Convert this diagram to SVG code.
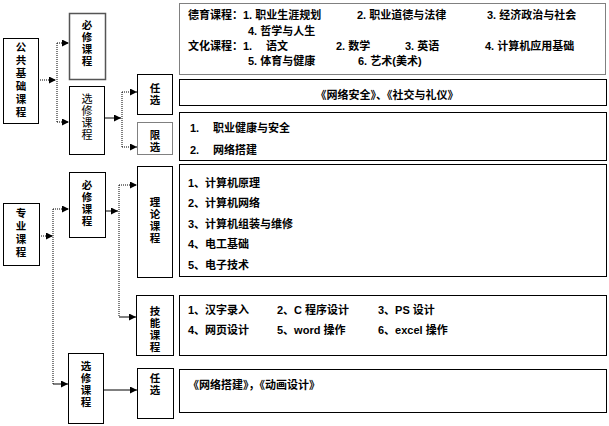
<svg xmlns="http://www.w3.org/2000/svg" width="609" height="426" viewBox="0 0 609 426">
<style>
.b{fill:#fff;stroke:#000;stroke-width:1}
.bg{fill:#fff;stroke:#555;stroke-width:1.5}
.bd{fill:#fff;stroke:#000;stroke-width:1;stroke-dasharray:1,1}
.t{font-family:"Liberation Sans","Noto Sans CJK SC",sans-serif;font-size:11px;font-weight:bold;fill:#000}
.v{font-family:"Noto Sans CJK SC",sans-serif;font-size:10.5px;font-weight:bold;fill:#000;text-anchor:middle;writing-mode:vertical-rl;letter-spacing:1.5px}
.vw{letter-spacing:2.5px}
.vl{font-weight:normal;font-size:11px;letter-spacing:1px}
.c{fill:none;stroke:#000;stroke-width:1;stroke-dasharray:1,1}
.s{fill:none;stroke:#000;stroke-width:1}
</style>
<defs>
<marker id="a" markerUnits="userSpaceOnUse" markerWidth="8" markerHeight="8" refX="7" refY="3.5" orient="auto">
<path d="M0,0 L7,3.5 L0,7 z" fill="#000"/>
</marker>
</defs>
<rect width="609" height="426" fill="#fff"/>
<g id="connectors">
<line class="c" x1="38" y1="80" x2="56" y2="80" marker-end="url(#a)"/>
<line class="c" x1="57" y1="43" x2="57" y2="122"/>
<line class="c" x1="57" y1="43" x2="69" y2="43" marker-end="url(#a)"/>
<line class="c" x1="57" y1="122" x2="69" y2="122" marker-end="url(#a)"/>
<line class="s" x1="105" y1="118" x2="121" y2="118" marker-end="url(#a)"/>
<line class="c" x1="122" y1="92" x2="122" y2="147"/>
<line class="c" x1="122" y1="92" x2="137" y2="92" marker-end="url(#a)"/>
<line class="c" x1="122" y1="147" x2="137" y2="147" marker-end="url(#a)"/>
<line class="c" x1="39" y1="236" x2="53" y2="236" marker-end="url(#a)"/>
<line class="c" x1="53" y1="209" x2="53" y2="384"/>
<line class="c" x1="53" y1="209" x2="69" y2="209" marker-end="url(#a)"/>
<line class="s" x1="53" y1="384" x2="68" y2="384" marker-end="url(#a)"/>
<line class="s" x1="105" y1="211" x2="118" y2="211" marker-end="url(#a)"/>
<line class="c" x1="119" y1="185" x2="119" y2="317"/>
<line class="c" x1="119" y1="185" x2="137" y2="185" marker-end="url(#a)"/>
<line class="s" x1="119" y1="317" x2="136" y2="317" marker-end="url(#a)"/>
<line class="s" x1="103" y1="390" x2="137" y2="390" marker-end="url(#a)"/>
</g>
<g id="n-gongong">
<rect class="b" x="3.5" y="38.5" width="35" height="85"/>
<text class="v vw" x="21" y="81">公共基础课程</text>
</g>
<g id="n-bixiu1">
<rect class="bg" x="69.5" y="13.5" width="36" height="66"/>
<text class="v" x="87" y="44">必修课程</text>
</g>
<g id="n-xuanxiu1">
<rect class="b" x="69.5" y="86.5" width="35" height="68"/>
<text class="v vl" x="87" y="117">选修课程</text>
</g>
<g id="n-renxuan1">
<rect class="b" x="137.5" y="74.5" width="35" height="40"/>
<text class="v" x="155" y="95">任选</text>
</g>
<g id="n-xianxuan">
<rect class="bd" x="137.5" y="122.5" width="35" height="32"/>
<text class="v" x="155" y="142">限选</text>
</g>
<g id="t-gonggong">
<rect class="bd" x="179.5" y="3.5" width="426" height="71"/>
<text class="t" x="188" y="19">德育课程：1. 职业生涯规划</text>
<text class="t" x="357" y="19">2. 职业道德与法律</text>
<text class="t" x="487" y="19">3. 经济政治与社会</text>
<text class="t" x="248" y="35">4. 哲学与人生</text>
<text class="t" x="188" y="50">文化课程：1.</text>
<text class="t" x="266" y="50">语文</text>
<text class="t" x="336" y="50">2. 数学</text>
<text class="t" x="405" y="50">3. 英语</text>
<text class="t" x="485" y="50">4. 计算机应用基础</text>
<text class="t" x="248" y="65">5. 体育与健康</text>
<text class="t" x="358" y="65">6. 艺术(美术)</text>
</g>
<g id="t-renxuan1">
<rect class="b" x="179.5" y="79.5" width="427" height="26"/>
<text class="t" x="387" y="99" text-anchor="middle">《网络安全》、《社交与礼仪》</text>
</g>
<g id="t-xianxuan">
<rect class="b" x="179.5" y="112.5" width="427" height="48"/>
<text class="t" x="190" y="132">1.</text>
<text class="t" x="213" y="132">职业健康与安全</text>
<text class="t" x="190" y="154">2.</text>
<text class="t" x="213" y="154">网络搭建</text>
</g>
<g id="n-zhuanye">
<rect class="b" x="3.5" y="203.5" width="36" height="62"/>
<text class="v vw" x="21" y="234">专业课程</text>
</g>
<g id="n-bixiu2">
<rect class="b" x="69.5" y="172.5" width="36" height="65"/>
<text class="v" x="87" y="204">必修课程</text>
</g>
<g id="n-xuanxiu2">
<rect class="b" x="68.5" y="353.5" width="35" height="70"/>
<text class="v" x="86" y="385">选修课程</text>
</g>
<g id="n-lilun">
<rect class="b" x="137.5" y="166.5" width="35" height="111"/>
<text class="v" x="155" y="221">理论课程</text>
</g>
<g id="n-jineng">
<rect class="b" x="136.5" y="295.5" width="37" height="60"/>
<text class="v" x="155" y="330">技能课程</text>
</g>
<g id="n-renxuan2">
<rect class="b" x="137.5" y="368.5" width="36" height="50"/>
<text class="v" x="155" y="385">任选</text>
</g>
<g id="t-lilun">
<rect class="b" x="179.5" y="164.5" width="427" height="112"/>
<text class="t" x="188" y="187">1、计算机原理</text>
<text class="t" x="188" y="207">2、计算机网络</text>
<text class="t" x="188" y="228">3、计算机组装与维修</text>
<text class="t" x="188" y="248">4、电工基础</text>
<text class="t" x="188" y="269">5、电子技术</text>
</g>
<g id="t-jineng">
<rect class="b" x="179.5" y="295.5" width="427" height="60"/>
<text class="t" x="188" y="314">1、汉字录入</text>
<text class="t" x="277" y="314">2、C 程序设计</text>
<text class="t" x="378" y="314">3、PS 设计</text>
<text class="t" x="188" y="334">4、网页设计</text>
<text class="t" x="277" y="334">5、word 操作</text>
<text class="t" x="378" y="334">6、excel 操作</text>
</g>
<g id="t-renxuan2">
<rect class="b" x="179.5" y="369.5" width="427" height="43"/>
<text class="t" x="188" y="389">《网络搭建》，《动画设计》</text>
</g>
</svg>
